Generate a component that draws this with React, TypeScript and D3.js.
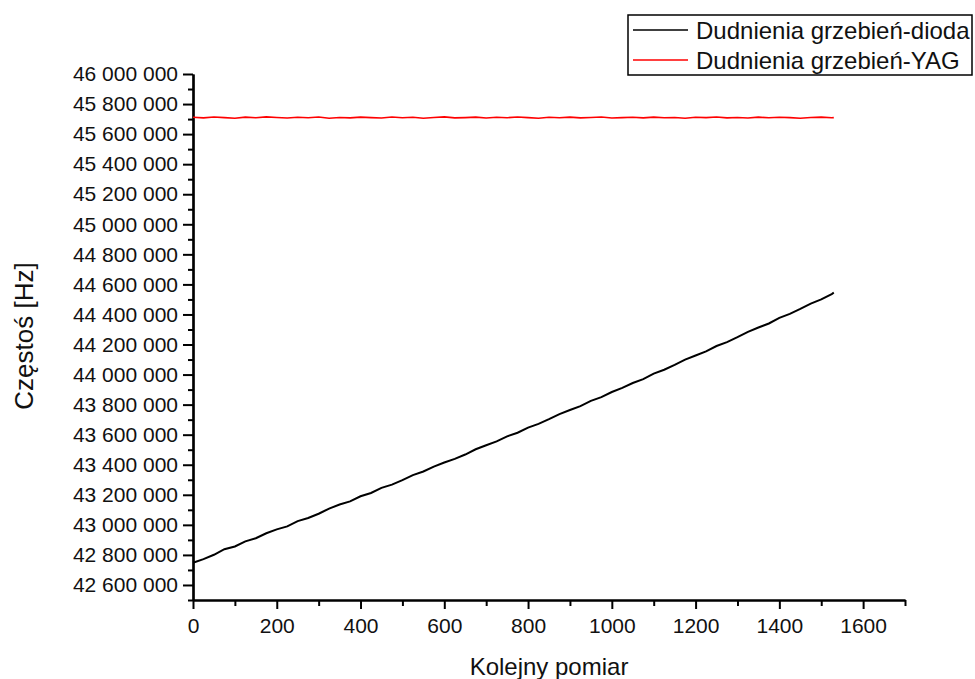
import React, { useEffect, useRef } from 'react'
import * as d3 from 'd3'

// pomiar index for the measured points
const measureIdx = [
  0, 25, 50, 75, 100, 125, 150, 175, 200, 225, 250, 275, 300, 325, 350, 375,
  400, 425, 450, 475, 500, 525, 550, 575, 600, 625, 650, 675, 700, 725, 750, 775,
  800, 825, 850, 875, 900, 925, 950, 975, 1000, 1025, 1050, 1075, 1100, 1125, 1150, 1175,
  1200, 1225, 1250, 1275, 1300, 1325, 1350, 1375, 1400, 1425, 1450, 1475, 1500, 1525, 1530,
]

// beat comb - diode [Hz]
const diodeValues = [
  42748000, 42772000, 42801000, 42838000, 42856000, 42890000, 42911000, 42944000,
  42970000, 42990000, 43025000, 43046000, 43074000, 43108000, 43135000, 43156000,
  43190000, 43212000, 43246000, 43268000, 43298000, 43331000, 43355000, 43388000,
  43415000, 43439000, 43468000, 43503000, 43530000, 43555000, 43589000, 43613000,
  43647000, 43672000, 43703000, 43737000, 43764000, 43790000, 43825000, 43850000,
  43884000, 43911000, 43944000, 43970000, 44006000, 44032000, 44064000, 44099000,
  44127000, 44154000, 44190000, 44216000, 44249000, 44284000, 44313000, 44340000,
  44377000, 44404000, 44437000, 44472000, 44500000, 44536000, 44545000,
]

// beat comb - YAG [Hz]
const yagValues = [
  45712000, 45708000, 45714000, 45710000, 45706000, 45713000, 45709000, 45715000,
  45711000, 45707000, 45712000, 45709000, 45714000, 45706000, 45711000, 45708000,
  45713000, 45710000, 45707000, 45714000, 45709000, 45712000, 45706000, 45711000,
  45715000, 45708000, 45710000, 45713000, 45707000, 45712000, 45709000, 45714000,
  45710000, 45706000, 45712000, 45709000, 45713000, 45708000, 45711000, 45714000,
  45707000, 45710000, 45712000, 45708000, 45713000, 45709000, 45711000, 45706000,
  45712000, 45710000, 45714000, 45708000, 45711000, 45707000, 45713000, 45709000,
  45712000, 45710000, 45706000, 45711000, 45713000, 45709000, 45710000,
]

const seriesNames = ['Dudnienia grzebień-dioda', 'Dudnienia grzebień-YAG']
const seriesColors = ['#000000', '#ff0000']

const xMajor = [0, 200, 400, 600, 800, 1000, 1200, 1400, 1600]
const xMinor = [100, 300, 500, 700, 900, 1100, 1300, 1500, 1700]
const yMajor = d3.range(17).map((i) => 42600000 + i * 200000).concat([46000000])
const yMinor = d3.range(18).map((i) => 42500000 + i * 200000)

const font = '"Liberation Sans", Arial, Helvetica, sans-serif'

export default function App() {
  const ref = useRef<SVGSVGElement>(null)

  useEffect(() => {
    const svg = d3.select(ref.current)
    svg.selectAll('*').remove()

    const x = d3.scaleLinear().domain([0, 1700]).range([193, 905])
    const y = d3.scaleLinear().domain([42500000, 46000000]).range([600, 74])

    const loc = d3.formatLocale({ decimal: '.', thousands: ' ', grouping: [3], currency: ['', ''] })
    const fmt = loc.format(',d')

    // minor ticks first
    const yMin = svg.append('g').attr('transform', 'translate(193,0)')
      .call(d3.axisLeft(y).tickValues(yMinor).tickSize(5).tickSizeOuter(0).tickFormat(() => ''))
    const xMin = svg.append('g').attr('transform', 'translate(0,600)')
      .call(d3.axisBottom(x).tickValues(xMinor).tickSize(6).tickSizeOuter(0).tickFormat(() => ''))

    const yAx = svg.append('g').attr('transform', 'translate(193,0)')
      .call(d3.axisLeft(y).tickValues(yMajor).tickSize(10).tickSizeOuter(0).tickPadding(5).tickFormat((d) => fmt(d as number)))
    const xAx = svg.append('g').attr('transform', 'translate(0,600)')
      .call(d3.axisBottom(x).tickValues(xMajor).tickSize(9).tickSizeOuter(0).tickPadding(9).tickFormat(d3.format('d')))

    for (const g of [yMin, xMin, yAx, xAx]) {
      g.selectAll('path.domain').attr('stroke', '#000').attr('stroke-width', 2.2)
      g.selectAll('.tick line').attr('stroke', '#000').attr('stroke-width', 2)
      g.selectAll('.tick text')
        .attr('fill', '#111')
        .attr('font-family', font)
        .attr('font-size', 21)
    }

    const line = d3.line<number>()
      .x((d, i) => x(measureIdx[i]))
      .y((d) => y(d))

    svg.append('path')
      .datum(yagValues)
      .attr('fill', 'none')
      .attr('stroke', seriesColors[1])
      .attr('stroke-width', 1.6)
      .attr('d', line)

    svg.append('path')
      .datum(diodeValues)
      .attr('fill', 'none')
      .attr('stroke', seriesColors[0])
      .attr('stroke-width', 2)
      .attr('d', line)

    // axis titles
    svg.append('text')
      .attr('x', 549).attr('y', 675)
      .attr('text-anchor', 'middle')
      .attr('font-family', font).attr('font-size', 24).attr('fill', '#111')
      .text('Kolejny pomiar')

    svg.append('text')
      .attr('transform', 'translate(33,336) rotate(-90)')
      .attr('text-anchor', 'middle')
      .attr('font-family', font).attr('font-size', 26).attr('fill', '#111')
      .text('Częstoś [Hz]')

    // legend
    const lg = svg.append('g')
    lg.append('rect')
      .attr('x', 628).attr('y', 15).attr('width', 344).attr('height', 60)
      .attr('fill', '#fff').attr('stroke', '#000').attr('stroke-width', 1.5)
    seriesNames.forEach((name, i) => {
      const ly = 30 + i * 30
      lg.append('line')
        .attr('x1', 633).attr('x2', 688).attr('y1', ly).attr('y2', ly)
        .attr('stroke', seriesColors[i]).attr('stroke-width', 1.5)
      lg.append('text')
        .attr('x', 696).attr('y', ly + 8.5)
        .attr('font-family', font).attr('font-size', 24).attr('fill', '#111')
        .text(name)
    })
  }, [])

  return (
    <div style={{ position: 'absolute', left: 0, top: 0 }}>
      <svg ref={ref} width={975} height={679} style={{ display: 'block', background: '#fff' }} />
    </div>
  )
}
